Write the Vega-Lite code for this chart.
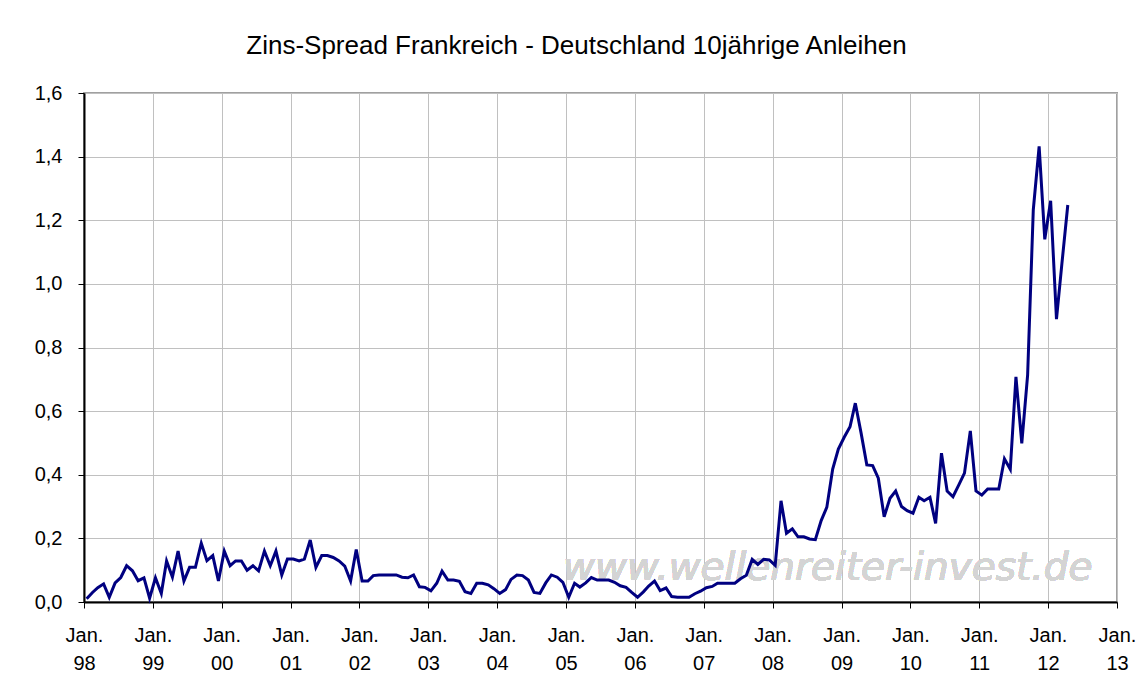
{
  "$schema": "https://vega.github.io/schema/vega-lite/v6.json",
  "width": 1033,
  "height": 509,
  "autosize": {"type": "none"},
  "padding": {"left": 84, "top": 93, "right": 24, "bottom": 77},
  "background": "white",
  "title": {
    "text": "Zins-Spread Frankreich - Deutschland 10jährige Anleihen",
    "font": "Liberation Sans",
    "fontSize": 26,
    "fontWeight": "normal",
    "color": "black",
    "anchor": "middle",
    "offset": 24,
    "dx": -24
  },
  "config": {
    "view": {"stroke": "#a0a0a0", "strokeWidth": 2},
    "font": "Liberation Sans"
  },
  "data": {
    "values": [
      {"date": "1998-01-15", "v": 0.01}, {"date": "1998-02-15", "v": 0.03}, {"date": "1998-03-15", "v": 0.045}, {"date": "1998-04-15", "v": 0.057},
      {"date": "1998-05-15", "v": 0.015}, {"date": "1998-06-15", "v": 0.06}, {"date": "1998-07-15", "v": 0.077}, {"date": "1998-08-15", "v": 0.114},
      {"date": "1998-09-15", "v": 0.098}, {"date": "1998-10-15", "v": 0.067}, {"date": "1998-11-15", "v": 0.076}, {"date": "1998-12-15", "v": 0.012},
      {"date": "1999-01-15", "v": 0.076}, {"date": "1999-02-15", "v": 0.027}, {"date": "1999-03-15", "v": 0.129}, {"date": "1999-04-15", "v": 0.078},
      {"date": "1999-05-15", "v": 0.16}, {"date": "1999-06-15", "v": 0.066}, {"date": "1999-07-15", "v": 0.109}, {"date": "1999-08-15", "v": 0.109},
      {"date": "1999-09-15", "v": 0.185}, {"date": "1999-10-15", "v": 0.13}, {"date": "1999-11-15", "v": 0.146}, {"date": "1999-12-15", "v": 0.066},
      {"date": "2000-01-15", "v": 0.16}, {"date": "2000-02-15", "v": 0.114}, {"date": "2000-03-15", "v": 0.129}, {"date": "2000-04-15", "v": 0.129},
      {"date": "2000-05-15", "v": 0.10}, {"date": "2000-06-15", "v": 0.114}, {"date": "2000-07-15", "v": 0.098}, {"date": "2000-08-15", "v": 0.16},
      {"date": "2000-09-15", "v": 0.114}, {"date": "2000-10-15", "v": 0.16}, {"date": "2000-11-15", "v": 0.085}, {"date": "2000-12-15", "v": 0.135},
      {"date": "2001-01-15", "v": 0.135}, {"date": "2001-02-15", "v": 0.129}, {"date": "2001-03-15", "v": 0.135}, {"date": "2001-04-15", "v": 0.195},
      {"date": "2001-05-15", "v": 0.109}, {"date": "2001-06-15", "v": 0.146}, {"date": "2001-07-15", "v": 0.146}, {"date": "2001-08-15", "v": 0.14},
      {"date": "2001-09-15", "v": 0.129}, {"date": "2001-10-15", "v": 0.113}, {"date": "2001-11-15", "v": 0.066}, {"date": "2001-12-15", "v": 0.165},
      {"date": "2002-01-15", "v": 0.066}, {"date": "2002-02-15", "v": 0.066}, {"date": "2002-03-15", "v": 0.083}, {"date": "2002-04-15", "v": 0.085},
      {"date": "2002-05-15", "v": 0.085}, {"date": "2002-06-15", "v": 0.085}, {"date": "2002-07-15", "v": 0.085}, {"date": "2002-08-15", "v": 0.078},
      {"date": "2002-09-15", "v": 0.076}, {"date": "2002-10-15", "v": 0.085}, {"date": "2002-11-15", "v": 0.048}, {"date": "2002-12-15", "v": 0.046},
      {"date": "2003-01-15", "v": 0.035}, {"date": "2003-02-15", "v": 0.059}, {"date": "2003-03-15", "v": 0.097}, {"date": "2003-04-15", "v": 0.069},
      {"date": "2003-05-15", "v": 0.069}, {"date": "2003-06-15", "v": 0.065}, {"date": "2003-07-15", "v": 0.032}, {"date": "2003-08-15", "v": 0.027},
      {"date": "2003-09-15", "v": 0.059}, {"date": "2003-10-15", "v": 0.059}, {"date": "2003-11-15", "v": 0.054}, {"date": "2003-12-15", "v": 0.042},
      {"date": "2004-01-15", "v": 0.027}, {"date": "2004-02-15", "v": 0.039}, {"date": "2004-03-15", "v": 0.071}, {"date": "2004-04-15", "v": 0.085},
      {"date": "2004-05-15", "v": 0.083}, {"date": "2004-06-15", "v": 0.069}, {"date": "2004-07-15", "v": 0.03}, {"date": "2004-08-15", "v": 0.027},
      {"date": "2004-09-15", "v": 0.06}, {"date": "2004-10-15", "v": 0.085}, {"date": "2004-11-15", "v": 0.078}, {"date": "2004-12-15", "v": 0.062},
      {"date": "2005-01-15", "v": 0.015}, {"date": "2005-02-15", "v": 0.059}, {"date": "2005-03-15", "v": 0.047}, {"date": "2005-04-15", "v": 0.06},
      {"date": "2005-05-15", "v": 0.077}, {"date": "2005-06-15", "v": 0.069}, {"date": "2005-07-15", "v": 0.069}, {"date": "2005-08-15", "v": 0.069},
      {"date": "2005-09-15", "v": 0.062}, {"date": "2005-10-15", "v": 0.051}, {"date": "2005-11-15", "v": 0.046}, {"date": "2005-12-15", "v": 0.03},
      {"date": "2006-01-15", "v": 0.015}, {"date": "2006-02-15", "v": 0.032}, {"date": "2006-03-15", "v": 0.05}, {"date": "2006-04-15", "v": 0.066},
      {"date": "2006-05-15", "v": 0.036}, {"date": "2006-06-15", "v": 0.044}, {"date": "2006-07-15", "v": 0.017}, {"date": "2006-08-15", "v": 0.015},
      {"date": "2006-09-15", "v": 0.015}, {"date": "2006-10-15", "v": 0.015}, {"date": "2006-11-15", "v": 0.026}, {"date": "2006-12-15", "v": 0.034},
      {"date": "2007-01-15", "v": 0.045}, {"date": "2007-02-15", "v": 0.049}, {"date": "2007-03-15", "v": 0.059}, {"date": "2007-04-15", "v": 0.059},
      {"date": "2007-05-15", "v": 0.059}, {"date": "2007-06-15", "v": 0.059}, {"date": "2007-07-15", "v": 0.073}, {"date": "2007-08-15", "v": 0.084},
      {"date": "2007-09-15", "v": 0.134}, {"date": "2007-10-15", "v": 0.118}, {"date": "2007-11-15", "v": 0.134}, {"date": "2007-12-15", "v": 0.132},
      {"date": "2008-01-15", "v": 0.115}, {"date": "2008-02-15", "v": 0.318}, {"date": "2008-03-15", "v": 0.216}, {"date": "2008-04-15", "v": 0.23},
      {"date": "2008-05-15", "v": 0.205}, {"date": "2008-06-15", "v": 0.205}, {"date": "2008-07-15", "v": 0.198}, {"date": "2008-08-15", "v": 0.196},
      {"date": "2008-09-15", "v": 0.256}, {"date": "2008-10-15", "v": 0.298}, {"date": "2008-11-15", "v": 0.418}, {"date": "2008-12-15", "v": 0.481},
      {"date": "2009-01-15", "v": 0.518}, {"date": "2009-02-15", "v": 0.551}, {"date": "2009-03-15", "v": 0.625}, {"date": "2009-04-15", "v": 0.53},
      {"date": "2009-05-15", "v": 0.431}, {"date": "2009-06-15", "v": 0.429}, {"date": "2009-07-15", "v": 0.389}, {"date": "2009-08-15", "v": 0.268},
      {"date": "2009-09-15", "v": 0.326}, {"date": "2009-10-15", "v": 0.349}, {"date": "2009-11-15", "v": 0.30}, {"date": "2009-12-15", "v": 0.287},
      {"date": "2010-01-15", "v": 0.279}, {"date": "2010-02-15", "v": 0.329}, {"date": "2010-03-15", "v": 0.318}, {"date": "2010-04-15", "v": 0.329},
      {"date": "2010-05-15", "v": 0.247}, {"date": "2010-06-15", "v": 0.468}, {"date": "2010-07-15", "v": 0.349}, {"date": "2010-08-15", "v": 0.331},
      {"date": "2010-09-15", "v": 0.368}, {"date": "2010-10-15", "v": 0.405}, {"date": "2010-11-15", "v": 0.538}, {"date": "2010-12-15", "v": 0.349},
      {"date": "2011-01-15", "v": 0.336}, {"date": "2011-02-15", "v": 0.355}, {"date": "2011-03-15", "v": 0.355}, {"date": "2011-04-15", "v": 0.355},
      {"date": "2011-05-15", "v": 0.45}, {"date": "2011-06-15", "v": 0.417}, {"date": "2011-07-15", "v": 0.708}, {"date": "2011-08-15", "v": 0.499},
      {"date": "2011-09-15", "v": 0.714}, {"date": "2011-10-15", "v": 1.233}, {"date": "2011-11-15", "v": 1.432}, {"date": "2011-12-15", "v": 1.14},
      {"date": "2012-01-15", "v": 1.261}, {"date": "2012-02-15", "v": 0.889}, {"date": "2012-03-15", "v": 1.065}, {"date": "2012-04-15", "v": 1.248}
    ]
  },
  "layer": [
    {
      "mark": {
        "type": "text",
        "font": "DejaVu Sans",
        "fontStyle": "oblique",
        "fontSize": 39,
        "color": "#d4d4d4",
        "align": "center",
        "baseline": "middle"
      },
      "encoding": {
        "x": {"datum": {"year": 2008, "month": 10, "date": 20, "utc": true}, "type": "temporal"},
        "y": {"datum": 0.107, "type": "quantitative"},
        "text": {"value": "www.wellenreiter-invest.de"}
      }
    },
    {
      "mark": {"type": "line", "color": "#000080", "strokeWidth": 3, "strokeJoin": "miter"},
      "encoding": {
        "x": {
          "field": "date",
          "type": "temporal",
          "scale": {
            "type": "utc",
            "domain": [
              {"year": 1998, "month": 1, "date": 1, "utc": true},
              {"year": 2013, "month": 1, "date": 1, "utc": true}
            ]
          },
          "axis": {
            "title": null,
            "values": [
              {"year": 1998, "month": 1, "date": 1, "utc": true},
              {"year": 1999, "month": 1, "date": 1, "utc": true},
              {"year": 2000, "month": 1, "date": 1, "utc": true},
              {"year": 2001, "month": 1, "date": 1, "utc": true},
              {"year": 2002, "month": 1, "date": 1, "utc": true},
              {"year": 2003, "month": 1, "date": 1, "utc": true},
              {"year": 2004, "month": 1, "date": 1, "utc": true},
              {"year": 2005, "month": 1, "date": 1, "utc": true},
              {"year": 2006, "month": 1, "date": 1, "utc": true},
              {"year": 2007, "month": 1, "date": 1, "utc": true},
              {"year": 2008, "month": 1, "date": 1, "utc": true},
              {"year": 2009, "month": 1, "date": 1, "utc": true},
              {"year": 2010, "month": 1, "date": 1, "utc": true},
              {"year": 2011, "month": 1, "date": 1, "utc": true},
              {"year": 2012, "month": 1, "date": 1, "utc": true},
              {"year": 2013, "month": 1, "date": 1, "utc": true}
            ],
            "labelExpr": "['Jan.', utcFormat(datum.value, '%y')]",
            "labelFont": "Liberation Sans",
            "labelFontSize": 20,
            "labelColor": "black",
            "labelLineHeight": 28,
            "labelPadding": 17,
            "labelFlush": false,
            "labelOverlap": false,
            "tickSize": 6,
            "tickColor": "black",
            "tickWidth": 1,
            "domainColor": "black",
            "domainWidth": 2,
            "grid": true,
            "gridColor": "#c0c0c0",
            "gridWidth": 1
          }
        },
        "y": {
          "field": "v",
          "type": "quantitative",
          "scale": {"domain": [0, 1.6], "nice": false, "zero": true},
          "axis": {
            "title": null,
            "values": [0, 0.2, 0.4, 0.6, 0.8, 1.0, 1.2, 1.4, 1.6],
            "labelExpr": "replace(format(datum.value, '.1f'), '.', ',')",
            "labelFont": "Liberation Sans",
            "labelFontSize": 20,
            "labelColor": "black",
            "labelPadding": 16,
            "tickSize": 6,
            "tickColor": "black",
            "domainColor": "black",
            "domainWidth": 2,
            "grid": true,
            "gridColor": "#c0c0c0",
            "gridWidth": 1
          }
        }
      }
    }
  ]
}
